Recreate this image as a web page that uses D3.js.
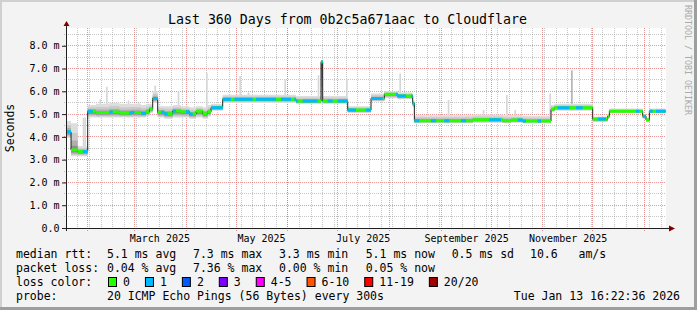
<!DOCTYPE html>
<html>
<head>
<meta charset="utf-8">
<script src="https://cdnjs.cloudflare.com/ajax/libs/d3/7.8.5/d3.min.js"></script>
<style>
body { margin: 0; background: #fff; }
text { font-family: "DejaVu Sans Mono", monospace; }
</style>
</head>
<body>
<div id="graph"></div>
<script>
var width = 697
var height = 310
const plot = {left: 66, right: 666, top: 28, bottom: 228}

const graphStart = new Date(2025, 0, 18, 16, 22, 36)
const graphEnd = new Date(2026, 0, 13, 16, 22, 36)

// median rtt steps (ms) with the smoke spread around them
const stepDates = ["2025-01-18", "2025-01-22", "2025-01-26", "2025-02-01", "2025-02-06", "2025-02-14",
    "2025-02-20", "2025-02-27", "2025-03-05", "2025-03-08", "2025-03-10", "2025-03-12", "2025-03-15",
    "2025-03-19", "2025-03-24", "2025-03-29", "2025-04-03", "2025-04-07", "2025-04-11", "2025-04-14",
    "2025-04-16", "2025-04-23", "2025-06-06", "2025-06-21", "2025-06-22", "2025-07-07", "2025-07-21",
    "2025-07-29", "2025-08-06", "2025-08-15", "2025-08-16", "2025-09-20", "2025-10-08", "2025-10-13",
    "2025-10-20", "2025-11-06", "2025-11-08", "2025-12-01", "2025-12-10", "2025-12-11", "2025-12-31",
    "2026-01-02", "2026-01-04"]
const medianMs = [4.22, 3.42, 3.36, 5.12, 5.07, 5.09, 5.05, 5.07, 5.04, 5.10, 5.22, 5.69, 5.08,
    5.02, 5.14, 5.10, 5.00, 5.12, 5.02, 5.10, 5.28, 5.65, 5.57, 7.30, 5.57, 5.18, 5.69,
    5.87, 5.79, 5.47, 4.71, 4.75, 4.71, 4.74, 4.70, 5.21, 5.28, 4.78, 4.91, 5.13, 4.91, 4.74, 5.13]
const smokeLoMs = [3.95, 3.15, 3.15, 4.85, 4.85, 4.85, 4.85, 4.85, 4.85, 4.90, 5.05, 5.50, 4.85,
    4.80, 4.85, 4.85, 4.80, 4.85, 4.80, 4.90, 5.15, 5.50, 5.45, 5.45, 5.45, 5.05, 5.55,
    5.70, 5.65, 5.30, 4.60, 4.62, 4.60, 4.62, 4.60, 5.10, 5.15, 4.65, 4.80, 5.05, 4.80, 4.65, 5.05]
const smokeHiMs = [4.70, 4.60, 3.60, 5.40, 5.45, 5.50, 5.45, 5.45, 5.40, 5.45, 5.45, 6.00, 5.35,
    5.35, 5.40, 5.35, 5.30, 5.35, 5.30, 5.40, 5.45, 5.85, 5.80, 7.30, 5.80, 5.35, 5.90,
    6.00, 5.95, 5.60, 4.95, 4.98, 4.95, 4.95, 4.92, 5.40, 5.45, 4.90, 5.00, 5.25, 5.00, 4.85, 5.25]

// single outlier pings sticking out of the smoke
const spikeDates = ["2025-01-29", "2025-01-30", "2025-02-08", "2025-02-12", "2025-02-25", "2025-03-03",
    "2025-03-13", "2025-03-27", "2025-04-13", "2025-05-03", "2025-05-08", "2025-05-30", "2025-06-19",
    "2025-07-06", "2025-08-07", "2025-09-05", "2025-09-26", "2025-10-10", "2025-10-15", "2025-11-05",
    "2025-11-18"]
const spikeTopMs = [4.85, 4.85, 5.65, 6.20, 5.60, 5.55, 6.25, 6.00, 6.80, 6.67, 5.95, 6.52, 6.71,
    6.54, 6.79, 5.62, 5.18, 5.84, 5.18, 5.90, 6.92]

// periods where 1 of 20 pings was lost
const lossOneFrom = ["2025-01-19", "2025-01-29", "2025-02-14", "2025-02-26", "2025-03-05", "2025-03-12",
    "2025-03-17", "2025-03-24", "2025-04-01", "2025-04-16", "2025-04-30", "2025-05-13", "2025-05-28",
    "2025-06-05", "2025-06-10", "2025-06-21", "2025-06-25", "2025-07-01", "2025-07-18", "2025-08-05",
    "2025-08-14", "2025-08-26", "2025-09-03", "2025-09-13", "2025-09-30", "2025-10-17", "2025-10-29",
    "2025-11-10", "2025-11-21", "2025-12-04", "2025-12-27", "2025-12-31", "2026-01-04", "2026-01-08"]
const lossOneTo = ["2025-01-22", "2025-02-04", "2025-02-16", "2025-03-01", "2025-03-08", "2025-03-15",
    "2025-03-21", "2025-03-26", "2025-04-05", "2025-04-28", "2025-05-11", "2025-05-25", "2025-06-03",
    "2025-06-07", "2025-06-19", "2025-06-22", "2025-06-28", "2025-07-12", "2025-07-28", "2025-08-11",
    "2025-08-19", "2025-08-29", "2025-09-06", "2025-09-16", "2025-10-07", "2025-10-22", "2025-10-31",
    "2025-11-17", "2025-11-25", "2025-12-09", "2025-12-29", "2026-01-02", "2026-01-06", "2026-01-14"]

const yTicks = [0, 1, 2, 3, 4, 5, 6, 7, 8]
const monthLabels = ["2025-03-16", "2025-05-16", "2025-07-16", "2025-09-16", "2025-11-16"]

const lossLabels = ["0", "1", "2", "3", "4-5", "6-10", "11-19", "20/20"]
const lossColors = ["#26ff00", "#00b8ff", "#0059ff", "#7e00ff", "#ff00ff", "#ff5500", "#ff0000", "#a10000"]
const rttStats = ["5.1 ms avg", "7.3 ms max", "3.3 ms min", "5.1 ms now", "0.5 ms sd", "10.6   am/s"]
const lossStats = ["0.04 % avg", "7.36 % max", "0.00 % min", "0.05 % now"]
const probeText = "20 ICMP Echo Pings (56 Bytes) every 300s"
const stampText = "Tue Jan 13 16:22:36 2026"
const titleText = "Last 360 Days from 0b2c5a671aac to Cloudflare"

const smokeShades = ["#dddddd", "#cacaca", "#afafaf", "#8f8f8f", "#6e6e6e"]

var parseDay = d3.timeParse("%Y-%m-%d")
var svg, xScale, yScale

createGraph()

function createGraph()
{
    xScale = d3.scaleTime()
        .domain([graphStart, graphEnd])
        .range([65.5, 665.5])
    yScale = d3.scaleLinear()
        .domain([0, 8.78])
        .range([plot.bottom, plot.top])

    svg = d3.select("#graph")
        .append("svg")
        .attr("width", width)
        .attr("height", height)
        .attr("display", "block")

    // frame
    svg.append("rect").attr("width", width).attr("height", height).attr("fill", "#f3f3f3")
    svg.append("rect").attr("x", 0).attr("y", 0).attr("width", width).attr("height", 2).attr("fill", "#d0d0d0")
    svg.append("rect").attr("x", 0).attr("y", 0).attr("width", 2).attr("height", height).attr("fill", "#d0d0d0")
    svg.append("rect").attr("x", width - 3).attr("y", 0).attr("width", 3).attr("height", height).attr("fill", "#9e9e9e")
    svg.append("rect").attr("x", 0).attr("y", height - 3).attr("width", width).attr("height", 3).attr("fill", "#9e9e9e")

    svg.append("rect")
        .attr("x", plot.left).attr("y", plot.top)
        .attr("width", plot.right - plot.left).attr("height", plot.bottom - plot.top)
        .attr("fill", "#fff")

    svg.append("text")
        .attr("x", 347.5).attr("y", 23.5)
        .attr("text-anchor", "middle")
        .style("font-size", "13.25px")
        .text(titleText)

    svg.append("text")
        .attr("transform", "translate(14,128)rotate(-90)")
        .attr("text-anchor", "middle")
        .style("font-size", "11.5px")
        .text("Seconds")

    svg.append("text")
        .attr("transform", "translate(685,5)rotate(90)")
        .style("font-size", "8.3px")
        .attr("fill", "#aaaaaa")
        .text("RRDTOOL / TOBI OETIKER")

    drawGrid()
    drawData()
    drawAxes()
    drawLegend()
}

function crisp(v)
{
    return Math.round(v - 0.5) + 0.5
}

function drawGrid()
{
    var grid = svg.append("g")
    var minorY = d3.range(0.5, 8.6, 1)
    grid.selectAll(".hminor").data(minorY).enter().append("line")
        .attr("x1", plot.left - 2).attr("x2", plot.right)
        .attr("y1", d => crisp(yScale(d))).attr("y2", d => crisp(yScale(d)))
        .attr("stroke", "rgba(140,140,140,0.5)").attr("stroke-dasharray", "1,1")

    var weeks = d3.timeSunday.range(graphStart, graphEnd)
    grid.selectAll(".vminor").data(weeks).enter().append("line")
        .attr("x1", d => crisp(xScale(d))).attr("x2", d => crisp(xScale(d)))
        .attr("y1", plot.top).attr("y2", plot.bottom + 2)
        .attr("stroke", "rgba(140,140,140,0.5)").attr("stroke-dasharray", "1,1")

    grid.selectAll(".hmajor").data(yTicks.slice(1)).enter().append("line")
        .attr("x1", plot.left - 2).attr("x2", plot.right)
        .attr("y1", d => crisp(yScale(d))).attr("y2", d => crisp(yScale(d)))
        .attr("stroke", "rgba(222,80,80,0.6)").attr("stroke-dasharray", "1,1")

    var months = d3.timeMonth.range(graphStart, graphEnd)
    grid.selectAll(".vmajor").data(months).enter().append("line")
        .attr("x1", d => crisp(xScale(d))).attr("x2", d => crisp(xScale(d)))
        .attr("y1", plot.top).attr("y2", plot.bottom + 3)
        .attr("stroke", "rgba(222,80,80,0.6)").attr("stroke-dasharray", "1,1")
}

function drawData()
{
    var series = stepDates.map(function(d, i) {
        return {t: parseDay(d), med: medianMs[i], lo: smokeLoMs[i], hi: smokeHiMs[i]}
    })
    var last = series[series.length - 1]
    series.push({t: graphEnd, med: last.med, lo: last.lo, hi: last.hi})

    svg.append("defs").append("clipPath").attr("id", "canvas")
        .append("rect")
        .attr("x", plot.left + 0.5).attr("y", plot.top)
        .attr("width", plot.right - plot.left).attr("height", plot.bottom - plot.top)

    var data_svg = svg.append("g").attr("clip-path", "url(#canvas)")

    var bisect = d3.bisector(d => d.t).right
    spikeDates.forEach(function(d, i) {
        var t = parseDay(d)
        var s = series[Math.max(0, bisect(series, t) - 1)]
        data_svg.append("rect")
            .attr("x", xScale(t))
            .attr("width", xScale(d3.timeDay.offset(t, 1)) - xScale(t))
            .attr("y", yScale(spikeTopMs[i]))
            .attr("height", yScale(s.lo) - yScale(spikeTopMs[i]))
            .attr("fill", spikeTopMs[i] > 6.9 ? "#b4b4b4" : "#d6d6d6")
    })

    // smoke: outer rings light, inner rings dark; upper pings spread out, so the
    // darker rings stay close above the median
    var rings = smokeShades.length
    for (var k = rings; k >= 1; k--) {
        var f = k / rings
        var area = d3.area()
            .curve(d3.curveStepAfter)
            .x(d => xScale(d.t))
            .y0(d => yScale(d.med - (d.med - d.lo) * f))
            .y1(d => yScale(d.med + (d.hi - d.med) * f * f))
        data_svg.append("path")
            .datum(series)
            .attr("d", area)
            .attr("fill", smokeShades[rings - k])
    }

    var medLine = d3.line()
        .curve(d3.curveStepAfter)
        .x(d => xScale(d.t))
        .y(d => yScale(d.med))
    data_svg.append("path")
        .datum(series)
        .attr("d", medLine)
        .attr("fill", "none")
        .attr("stroke", "#202020")
        .attr("stroke-width", 1)

    var band = d3.area()
        .curve(d3.curveStepAfter)
        .x(d => xScale(d.t))
        .y0(d => yScale(d.med) + 1.5)
        .y1(d => yScale(d.med) - 1.5)
    data_svg.append("path")
        .datum(series)
        .attr("d", band)
        .attr("fill", lossColors[0])

    var lossClip = svg.select("defs").append("clipPath").attr("id", "lossone")
    lossOneFrom.forEach(function(d, i) {
        lossClip.append("rect")
            .attr("x", xScale(parseDay(d)))
            .attr("width", xScale(parseDay(lossOneTo[i])) - xScale(parseDay(d)))
            .attr("y", 0).attr("height", height)
    })
    data_svg.append("g").attr("clip-path", "url(#lossone)")
        .append("path")
        .datum(series)
        .attr("d", band)
        .attr("fill", lossColors[1])
}

function drawAxes()
{
    var axisColor = "#202020"
    var yAxis = d3.axisLeft(yScale)
        .tickValues(yTicks)
        .tickSize(4)
        .tickPadding(2.5)
        .tickFormat(d => d == 0 ? "0.0" : d.toFixed(1) + " m")
    var y_svg = svg.append("g")
        .attr("transform", "translate(" + plot.left + ",0)")
        .call(yAxis)
    y_svg.select(".domain").remove()
    y_svg.selectAll("line").attr("stroke", axisColor)
    y_svg.selectAll("text")
        .attr("fill", "#000")
        .style("font-family", "'DejaVu Sans Mono', monospace")
        .style("font-size", "10px")

    var xAxis = d3.axisBottom(xScale)
        .tickValues(monthLabels.map(parseDay))
        .tickSize(0)
        .tickPadding(6.6)
        .tickFormat(d3.timeFormat("%B %Y"))
    var x_svg = svg.append("g")
        .attr("transform", "translate(0," + plot.bottom + ")")
        .call(xAxis)
    x_svg.select(".domain").remove()
    x_svg.selectAll("text")
        .attr("fill", "#000")
        .style("font-family", "'DejaVu Sans Mono', monospace")
        .style("font-size", "10px")

    svg.append("line")
        .attr("x1", 66.5).attr("x2", 66.5)
        .attr("y1", 26).attr("y2", plot.bottom + 3)
        .attr("stroke", axisColor)
    svg.append("line")
        .attr("x1", 62).attr("x2", 670)
        .attr("y1", plot.bottom + 0.5).attr("y2", plot.bottom + 0.5)
        .attr("stroke", axisColor)
    svg.append("path")
        .attr("d", "M66.5,21L63.5,26L69.5,26Z")
        .attr("fill", "#800000")
    svg.append("path")
        .attr("d", "M675,228.5L669,225.5L669,231.5Z")
        .attr("fill", "#800000")
}

function drawLegend()
{
    var legend = svg.append("g").style("font-size", "11.5px")
    var rowY = [258.3, 272.3, 286.3, 300.3]
    var cols = [107, 193, 279, 365.7, 451.7, 530]

    legend.append("text").attr("x", 16).attr("y", rowY[0]).text("median rtt:")
    rttStats.forEach(function(s, i) {
        legend.append("text").attr("x", cols[i]).attr("y", rowY[0]).attr("xml:space", "preserve").text(s)
    })

    legend.append("text").attr("x", 16).attr("y", rowY[1]).text("packet loss:")
    lossStats.forEach(function(s, i) {
        legend.append("text").attr("x", cols[i]).attr("y", rowY[1]).text(s)
    })

    legend.append("text").attr("x", 16).attr("y", rowY[2]).text("loss color:")
    var bx = 108.5
    lossLabels.forEach(function(lab, i) {
        legend.append("rect")
            .attr("x", bx).attr("y", 277.5)
            .attr("width", 8).attr("height", 9)
            .attr("fill", lossColors[i])
            .attr("stroke", "#000")
        var t = legend.append("text").attr("x", bx + 14.5).attr("y", rowY[2]).text(lab)
        bx = bx + 14.5 + t.node().getComputedTextLength() + 15.5
    })

    legend.append("text").attr("x", 16).attr("y", rowY[3]).text("probe:")
    legend.append("text").attr("x", cols[0]).attr("y", rowY[3]).text(probeText)
    legend.append("text").attr("x", 680).attr("y", rowY[3]).attr("text-anchor", "end").text(stampText)
}
</script>
</body>
</html>
